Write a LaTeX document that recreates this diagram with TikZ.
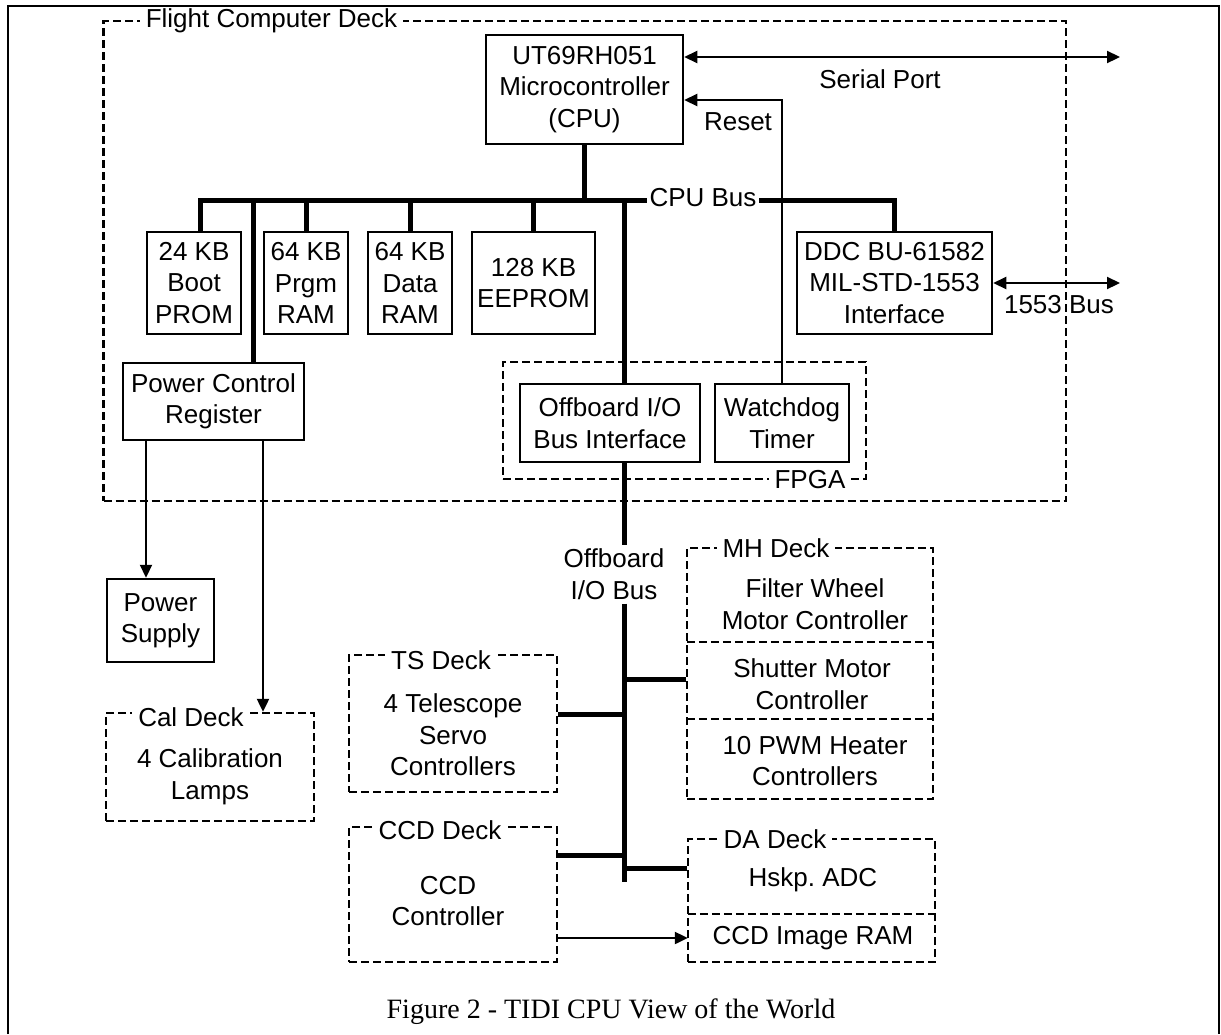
\documentclass[tikz,border=0pt]{standalone}
\usepackage{fontspec}
\setmainfont{Liberation Sans}
\newfontfamily\capfont{Liberation Serif}
\usetikzlibrary{arrows.meta}
\newcommand\diagfont{\fontsize{26}{31.5}\selectfont}
\frenchspacing

\begin{document}
\begin{tikzpicture}[x=1pt,y=-1pt,
  every node/.style={font=\diagfont,align=center,inner sep=0pt},
  box/.style={draw=black,line width=2.5pt},
  deck/.style={draw=black,line width=2.4pt,dash pattern=on 8pt off 4pt},
  title/.style={fill=white,inner xsep=6pt,inner ysep=1pt},
  bus/.style={draw=black,line width=5pt},
  wire/.style={draw=black,line width=2.2pt},
  arr/.style={wire,-{Triangle[length=13pt,width=12pt]}},
  arrs/.style={wire,{Triangle[length=13pt,width=12pt]}-{Triangle[length=13pt,width=12pt]}}]
\useasboundingbox (0,0) rectangle (1221,1034);
% outer frame:
\draw[line width=2.5pt] (8,1034) -- (8,6) -- (1219,6) -- (1219,1034);
% flight computer deck and fpga:
\node[deck,minimum width=962.5pt,minimum height=480pt] (fcd) at (584.75,261) {};
\node[title] (fcdtitle) at (271.5,21) {Flight Computer Deck};
\node[deck,minimum width=363pt,minimum height=117pt] (fpga) at (684.5,420.5) {};
\node[title] (fpgatitle) at (810,480) {FPGA};
% boxes on the cpu bus:
\node[box,minimum width=197pt,minimum height=109pt] (cpu) at (584.5,89.5) {UT69RH051\\Microcontroller\\(CPU)};
\node[box,minimum width=94pt,minimum height=102pt] (boot) at (194,283) {24 KB\\Boot\\PROM};
\node[box,minimum width=84pt,minimum height=102pt] (prgm) at (306,283) {64 KB\\Prgm\\RAM};
\node[box,minimum width=84pt,minimum height=102pt] (data) at (410,283) {64 KB\\Data\\RAM};
\node[box,minimum width=123pt,minimum height=102pt] (eep) at (533.5,283) {128 KB\\EEPROM};
\node[box,minimum width=195pt,minimum height=102pt] (ddc) at (894.5,283) {DDC BU-61582\\MIL-STD-1553\\Interface};
\node[box,minimum width=181pt,minimum height=77pt] (pcr) at (213.5,401.5) {Power Control\\Register};
\node[box,minimum width=180pt,minimum height=78pt] (obi) at (610,423) {Offboard I/O\\Bus Interface};
\node[box,minimum width=134pt,minimum height=78pt] (wdt) at (782,423) {Watchdog\\Timer};
% cpu bus:
\coordinate (pcrtap) at (253,200);
\coordinate (obtap) at (624,200);
\draw[bus] ([xshift=6pt]boot.north) |- (ddc.north |- pcrtap) -- (ddc.north);
\draw[bus] (cpu.south) -- (cpu.south |- pcrtap);
\draw[bus] (prgm.north) -- (prgm.north |- pcrtap);
\draw[bus] (data.north) -- (data.north |- pcrtap);
\draw[bus] (eep.north) -- (eep.north |- pcrtap);
\draw[bus] (pcrtap) -- (pcrtap |- pcr.north);
\draw[bus] (obtap) -- (obtap |- obi.north);
\node[fill=white,inner xsep=3pt,inner ysep=2pt] (cpubus) at (703,198) {CPU Bus};
% serial port, reset and 1553 bus:
\coordinate (serial) at (1120,57);
\draw[arrs] (cpu.east |- serial) -- (serial);
\node (seriallbl) at (880,79) {Serial Port};
\coordinate (rstpt) at (783,100);
\draw[arr] (wdt.north) |- (cpu.east |- rstpt);
\node (rstlbl) at (738,122) {Reset};
\coordinate (bus1553) at (1120,283);
\draw[arrs] (ddc.east) -- (ddc.east -| bus1553);
\node (lbl1553) at (1059,305) {1553 Bus};
% power:
\node[box,minimum width=107pt,minimum height=83pt] (ps) at (160.5,620.5) {Power\\Supply};
\node[deck,minimum width=208pt,minimum height=108pt] (cal) at (210,767) {};
\node (caltxt) at (210,777) {4 Calibration\\Lamps};
\node[title] (caltitle) at (191,717) {Cal Deck};
\coordinate (pstap) at (146,440);
\coordinate (caltap) at (263,440);
\draw[arr] (pstap) -- (pstap |- ps.north);
\draw[arr] (caltap) -- (caltap |- cal.north);
% offboard decks:
\node[deck,minimum width=208pt,minimum height=137pt] (ts) at (453,723.5) {};
\node (tstxt) at (453,735) {4 Telescope\\Servo\\Controllers};
\node[title] (tstitle) at (441,660) {TS Deck};
\node[deck,minimum width=208pt,minimum height=135pt] (ccd) at (453,894.5) {};
\node (ccdtxt) at (448,901) {CCD\\Controller};
\node[title] (ccdtitle) at (440,830) {CCD Deck};
\node[deck,minimum width=246pt,minimum height=251pt] (mh) at (810,673.5) {};
\node[minimum width=246pt,minimum height=94pt] (mh1) at (810,595) {};
\node[minimum width=246pt,minimum height=77pt] (mh2) at (810,680.5) {};
\node[minimum width=246pt,minimum height=80pt] (mh3) at (810,759) {};
\draw[deck] (mh1.south west) -- (mh1.south east);
\draw[deck] (mh2.south west) -- (mh2.south east);
\node (mh1txt) at (815,604) {Filter Wheel\\Motor Controller};
\node (mh2txt) at (812,684) {Shutter Motor\\Controller};
\node (mh3txt) at (815,761) {10 PWM Heater\\Controllers};
\node[title] (mhtitle) at (776,548) {MH Deck};
\node[deck,minimum width=247pt,minimum height=123pt] (da) at (811.5,900.5) {};
\node[minimum width=247pt,minimum height=75pt] (da1) at (811.5,876.5) {};
\node[minimum width=247pt,minimum height=48pt] (da2) at (811.5,938) {};
\draw[deck] (da1.south west) -- (da1.south east);
\node (da1txt) at (813,880) {Hskp. ADC};
\node (da2txt) at (813,938) {CCD Image RAM};
\node[title] (datitle) at (775,839) {DA Deck};
% offboard i/o bus:
\node[inner ysep=4pt] (oblbl) at (614,574) {Offboard\\I/O Bus};
\coordinate (obend) at (624,882);
\draw[bus] (obtap |- obi.south) -- (obtap |- oblbl.north);
\draw[bus] (obtap |- oblbl.south) -- (obend);
\coordinate (tstap) at (624,714);
\coordinate (mhtap) at (624,679);
\coordinate (ccdtap) at (624,855);
\coordinate (datap) at (624,868);
\draw[bus] (tstap) -- (tstap -| ts.east);
\draw[bus] (mhtap) -- (mhtap -| mh.west);
\draw[bus] (ccdtap) -- (ccdtap -| ccd.east);
\draw[bus] (datap) -- (datap -| da.west);
\draw[arr] (ccd.east |- da2) -- (da2.west);
% caption:
\node[font=\capfont\fontsize{28}{32}\selectfont] (caption) at (611,1012) {Figure 2 - TIDI CPU View of the World};
\end{tikzpicture}
\end{document}
